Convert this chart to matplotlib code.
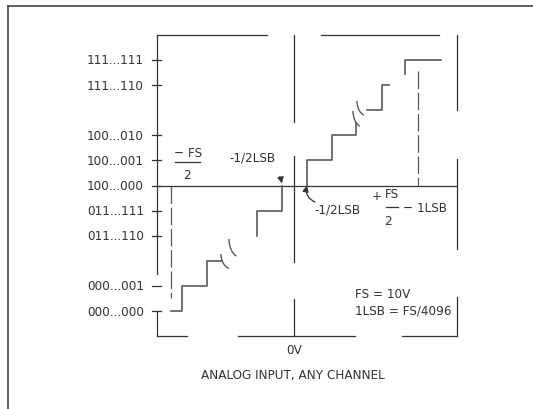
import matplotlib
matplotlib.use("Agg")
import matplotlib.pyplot as plt
from matplotlib import font_manager
from matplotlib.patches import Arc

# Buscar una fuente estrecha instalada (tipo Helvetica Condensed)
fuente = None
for f in font_manager.fontManager.ttflist:
    if f.name == "Liberation Sans Narrow" and f.weight in (400, "normal") and f.style == "normal":
        fuente = f.fname
        break
if fuente is None:
    for f in font_manager.fontManager.ttflist:
        if "Condensed" in f.fname and "Bold" not in f.fname and "Oblique" not in f.fname \
                and "Italic" not in f.fname and f.name == "DejaVu Sans":
            fuente = f.fname
            break
if fuente is not None:
    fp = font_manager.FontProperties(fname=fuente, size=9.6)
else:
    fp = font_manager.FontProperties(family="Liberation Sans", size=9.2)

# Codigos de salida (eje y) y su nivel
codigos = ["000...000", "000...001", "011...110", "011...111", "100...000",
           "100...001", "100...010", "111...110", "111...111"]
niveles = [0, 1, 3, 4, 5, 6, 7, 9, 10]

# Escalera (entrada en LSB desde 0V, nivel de codigo)
izq1_u = [-4.94, -4.5, -4.5, -3.5, -3.5, -2.9]
izq1_n = [0, 0, 1, 1, 2, 2]
izq2_u = [-1.5, -1.5, -0.5, -0.5]
izq2_n = [3, 4, 4, 5]
der1_u = [0.5, 0.5, 1.5, 1.5, 2.46, 2.46]
der1_n = [5, 6, 6, 7, 7, 7.5]
der2_u = [2.9, 3.5, 3.5, 3.8]
der2_n = [8, 8, 9, 9]
der3_u = [4.42, 4.42, 5.86]
der3_n = [9.45, 10, 10]

GRIS = "#5a5a5a"
NEGRO = "#333333"

fig = plt.figure(figsize=(5.33, 4.10), dpi=100)
ax = fig.add_axes([0, 0, 1, 1])
ax.set_xlim(-11.78, 9.54)
ax.set_ylim(-3.904, 12.43)
ax.axis("off")

# Borde de pagina
ax.plot([-11.46, 9.54], [12.15, 12.15], color="#444444", lw=1.2)
ax.plot([-11.46, -11.46], [12.15, -3.9], color="#444444", lw=1.2)

# Marco del grafico (con huecos como en el original)
segs = [
    ([-5.5, -1.1], [11, 11]), ([1.06, 5.78], [11, 11]),
    ([6.5, 6.5], [11, 8.0]), ([6.5, 6.5], [6.05, 2.47]), ([6.5, 6.5], [0.56, -1]),
    ([-5.5, -4.3], [-1, -1]), ([-2.26, 2.42], [-1, -1]), ([4.3, 6.5], [-1, -1]),
    ([-5.5, -5.5], [11, 1.47]), ([-5.5, -5.5], [0, -1]),
    ([0, 0], [11, 7.53]), ([0, 0], [6.18, 1.95]), ([0, 0], [0.48, -1]),
    ([-5.5, 6.5], [5, 5]),
]
for xs, ys in segs:
    ax.plot(xs, ys, color=NEGRO, lw=0.9)

# Lineas punteadas de -FS/2 y +FS/2 - 1LSB
ax.plot([-4.94, -4.94], [5, 0.5], color=GRIS, lw=0.9, dashes=(14, 3))
ax.plot([4.94, 4.94], [9.56, 5], color=GRIS, lw=0.9, dashes=(14, 3))

# Ticks y etiquetas de codigos
for cod, n in zip(codigos, niveles):
    ax.plot([-5.7, -5.34], [n, n], color=NEGRO, lw=0.9)
    ax.text(-6.02, n, cod, ha="right", va="center", fontproperties=fp, color=NEGRO)

# Escalera
for us, ns in [(izq1_u, izq1_n), (izq2_u, izq2_n), (der1_u, der1_n),
               (der2_u, der2_n), (der3_u, der3_n)]:
    ax.plot(us, ns, color=GRIS, lw=1.2)

# Simbolos de ruptura
for cu, cn, w, h in [(-2.5, 2.27, 0.88, 1.2), (-2.18, 2.87, 0.88, 1.44),
                     (2.74, 7.97, 0.8, 1.28), (2.9, 8.37, 0.8, 1.2)]:
    ax.add_patch(Arc((cu, cn), w, h, theta1=180, theta2=258, color=GRIS, lw=1.0))

# Anotaciones -1/2LSB
ax.annotate("-1/2LSB", xy=(-0.5, 5.08), xytext=(-1.69, 6.14), ha="center", va="center",
            fontproperties=fp, color=NEGRO,
            arrowprops=dict(arrowstyle="-|>", color=NEGRO, lw=0.9, mutation_scale=9,
                            shrinkA=9, shrinkB=0, connectionstyle="arc3,rad=-0.35"))
ax.annotate("", xy=(0.5, 5.0), xytext=(0.82, 4.34),
            arrowprops=dict(arrowstyle="-|>", color=NEGRO, lw=0.9, mutation_scale=9,
                            shrinkA=0, shrinkB=0, connectionstyle="arc3,rad=-0.4"))
ax.text(1.7, 4.06, "-1/2LSB", ha="center", va="center", fontproperties=fp, color=NEGRO)

# -FS/2
ax.text(-4.26, 6.33, "\u2212 FS", ha="center", va="center", fontproperties=fp, color=NEGRO)
ax.plot([-4.78, -3.78], [5.93, 5.93], color=NEGRO, lw=0.9)
ax.text(-4.3, 5.42, "2", ha="center", va="center", fontproperties=fp, color=NEGRO)

# +FS/2 - 1LSB
ax.text(3.3, 4.62, "+", ha="center", va="center", fontproperties=fp, color=NEGRO)
ax.text(3.88, 4.68, "FS", ha="center", va="center", fontproperties=fp, color=NEGRO)
ax.plot([3.66, 4.14], [4.14, 4.14], color=NEGRO, lw=0.9)
ax.text(3.74, 3.62, "2", ha="center", va="center", fontproperties=fp, color=NEGRO)
ax.text(4.34, 4.12, "\u2212 1LSB", ha="left", va="center", fontproperties=fp, color=NEGRO)

# Notas
ax.text(2.42, 0.68, "FS = 10V", ha="left", va="center", fontproperties=fp, color=NEGRO)
ax.text(2.42, 0.04, "1LSB = FS/4096", ha="left", va="center", fontproperties=fp, color=NEGRO)
ax.text(0, -1.55, "0V", ha="center", va="center", fontproperties=fp, color=NEGRO)
ax.text(-0.06, -2.51, "ANALOG INPUT, ANY CHANNEL", ha="center", va="center",
        fontproperties=fp, color=NEGRO)

fig.savefig("out.png", dpi=100)
